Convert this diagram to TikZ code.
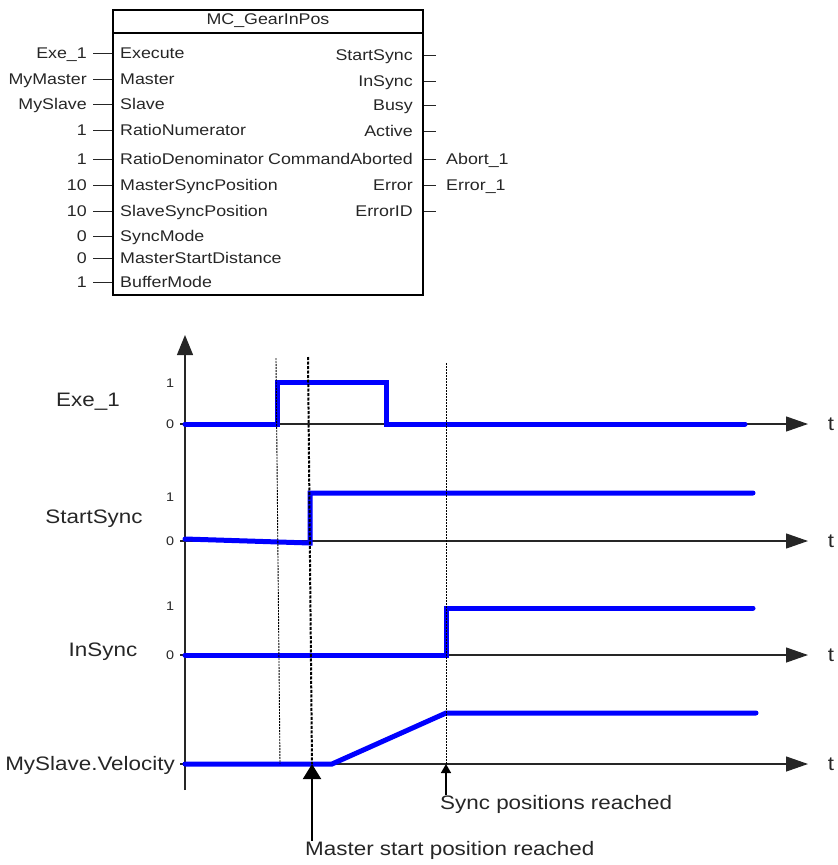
\documentclass[tikz,border=0pt]{standalone}
\usepackage{fontspec}
\setmainfont[FakeStretch=1.15]{Liberation Sans}
\usepackage{tikz}
\usetikzlibrary{arrows.meta}

\newcommand\blockfont{\fontsize{15.5}{17}\selectfont}
\newcommand\sigfont{\fontsize{19.5}{22}\selectfont}
\newcommand\tickfont{\fontsize{12.5}{14}\selectfont}

\tikzset{
  pinlbl/.style={font=\blockfont,anchor=base east,inner sep=0pt,xshift=-6pt,yshift=-5.5pt,text=black!85},
  pintxt/.style={font=\blockfont,inner sep=0pt,yshift=-5.5pt,text=black!85},
  pinline/.style={line width=1pt,black!85},
  axisline/.style={line width=1.2pt,black!85},
  sig/.style={blue,line width=5pt,line cap=round,line join=miter},
  thinmark/.style={line width=0.9pt,dash pattern=on 2pt off 1pt},
  thickmark/.style={line width=2pt,dash pattern=on 3pt off 1.5pt},
  siglbl/.style={font=\sigfont,inner sep=0pt,text=black!85},
  ticklbl/.style={font=\tickfont,inner sep=0pt,text=black!85}
}

\begin{document}
\begin{tikzpicture}[x=1pt,y=-1pt]
  \useasboundingbox (0,0) rectangle (838,865);

  \node[draw,line width=2pt,minimum width=310pt,minimum height=285pt,inner sep=0pt] (fb) at (268,152.5) {};
  \coordinate (sep) at (0,33);
  \draw[line width=2pt] (fb.west |- sep) -- (fb.east |- sep);
  \node[font=\blockfont,inner sep=0pt,text=black!85] (title) at (268,21) {MC\_GearInPos};

  \foreach \y/\lbl/\pin [count=\i] in {53/Exe\_1/Execute,79/MyMaster/Master,104/MySlave/Slave,
      130/1/RatioNumerator,159/1/RatioDenominator,185/10/MasterSyncPosition,211/10/SlaveSyncPosition,
      236/0/SyncMode,258/0/MasterStartDistance,282/1/BufferMode}{
    \coordinate (a\i) at (93,\y);
    \node[pinlbl] (in\i) at (a\i) {\lbl};
    \node[pintxt,anchor=base west] (pin\i) at (120,\y) {\pin};
    \draw[pinline] (a\i) -- (fb.west |- a\i);
  }

  \foreach \y/\pin [count=\i] in {55/StartSync,81/InSync,105/Busy,131/Active,
      159/CommandAborted,185/Error,211/ErrorID}{
    \node[pintxt,anchor=base east] (pout\i) at (413,\y) {\pin};
    \coordinate (q\i) at (436,\y);
    \draw[pinline] (fb.east |- q\i) -- (q\i);
  }
  \node[pintxt,anchor=base west] (abort) at (446,159) {Abort\_1};
  \node[pintxt,anchor=base west] (err) at (446,185) {Error\_1};

  \coordinate (ybot) at (185,790);
  \coordinate (ytop) at (185,335);
  \draw[axisline,-{Triangle[length=20pt,width=16pt]}] (ybot) -- (ytop);

  \foreach \y [count=\i] in {424,541,655,764}{
    \coordinate (ax\i) at (180,\y);
    \coordinate (tip\i) at (808,\y);
    \draw[axisline,-{Triangle[length=22pt,width=15pt]}] (ax\i) -- (tip\i);
    \node[siglbl] (t\i) at (831,\y) {t};
  }

  \node[ticklbl] (one1) at (170,383) {1};
  \node[ticklbl] (zero1) at (170,424) {0};
  \node[ticklbl] (one2) at (170,497) {1};
  \node[ticklbl] (zero2) at (170,541) {0};
  \node[ticklbl] (one3) at (170,606) {1};
  \node[ticklbl] (zero3) at (170,655) {0};

  \node[siglbl] (lexe) at (88,402) {Exe\_1};
  \node[siglbl] (lstart) at (94,519) {StartSync};
  \node[siglbl] (lin) at (103,652) {InSync};
  \node[siglbl,anchor=base east,yshift=-7pt] (lvel) at (175,763) {MySlave.Velocity};

  \draw[sig] (185,424) -- (277,424) -- (277,382) -- (386,382) -- (386,424) -- (745,424);
  \draw[sig] (185,539) -- (310,543) -- (310,493) -- (753,493);
  \draw[sig] (185,655) -- (446,655) -- (446,608) -- (753,608);
  \draw[sig] (185,764) -- (332,764) -- (446,713) -- (756,713);

  \coordinate (e1) at (276,358);
  \coordinate (f1) at (280,764);
  \coordinate (e2) at (308,357);
  \coordinate (f2) at (312,764);
  \coordinate (e3) at (446,363);
  \coordinate (f3) at (446,764);
  \draw[thinmark] (e1) -- (f1);
  \draw[thickmark] (e2) -- (f2);
  \draw[thinmark] (e3) -- (f3);

  \node[siglbl,anchor=base west,yshift=-7pt] (mlbl) at (305,848) {Master start position reached};
  \node[siglbl,anchor=base west,yshift=-7pt] (slbl) at (440,802) {Sync positions reached};
  \draw[line width=2pt,-{Triangle[length=15pt,width=18pt]}] (mlbl.north -| f2) -- (f2);
  \draw[line width=1.5pt,-{Triangle[length=9pt,width=10pt]}] (slbl.north -| f3) -- (f3);
\end{tikzpicture}
\end{document}
